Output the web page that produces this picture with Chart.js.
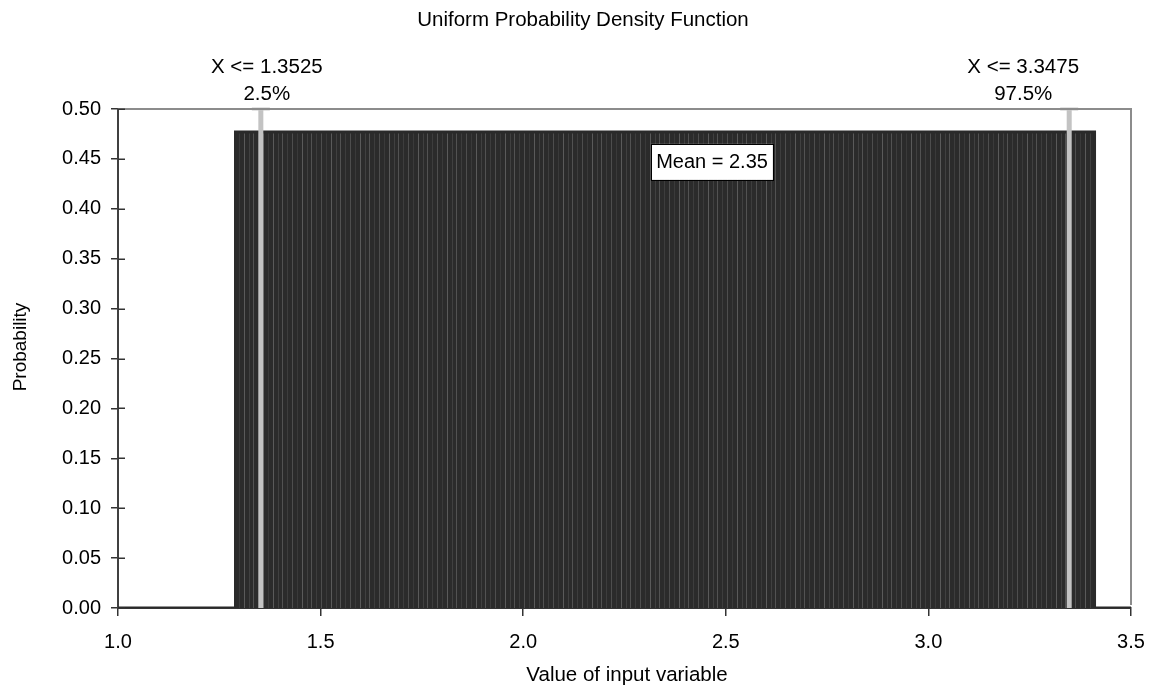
<!DOCTYPE html>
<html>
<head>
<meta charset="utf-8">
<script src="https://cdn.jsdelivr.net/npm/chart.js@4.4.1/dist/chart.umd.min.js"></script>
<style>
html,body{margin:0;padding:0;background:#fff;}
#wrap{width:1151px;height:689px;}
</style>
</head>
<body>
<div id="wrap"><canvas id="c" width="1151" height="689"></canvas></div>
<script>
// ---- data ----
const titleText = "Uniform Probability Density Function";
const xTitle = "Value of input variable";
const yTitle = "Probability";
const pdfX = [1.0, 1.29, 1.29, 3.41, 3.41, 3.5];
const pdfY = [0, 0, 0.477, 0.477, 0, 0];
const markerX = [1.3525, 3.3475];
const markerTop = 0.5;
const markerLine1 = ["X <= 1.3525", "X <= 3.3475"];
const markerLine2 = ["2.5%", "97.5%"];
const meanValue = 2.35;
const xMin = 1.0, xMax = 3.5, xStep = 0.5;
const yMin = 0, yMax = 0.5, yStep = 0.05;

const FONT = '"Liberation Sans", Arial, sans-serif';

// hatched dark fill pattern
function makePattern(ctx) {
  const p = document.createElement('canvas');
  p.width = 29; p.height = 8;
  const g = p.getContext('2d');
  g.fillStyle = '#2b2b2b'; g.fillRect(0, 0, 29, 8);
  const lines = [[2, '#4e4e4e'], [7, '#3a3a3a'], [12, '#5a5a5a'], [17, '#404040'], [21, '#525252'], [26, '#3d3d3d']];
  lines.forEach(([x, c]) => { g.fillStyle = c; g.fillRect(x, 0, 1, 8); });
  return ctx.createPattern(p, 'repeat');
}

const canvas = document.getElementById('c');
const ctx = canvas.getContext('2d');
const pattern = makePattern(ctx);

const pdfData = pdfX.map((x, i) => ({x: x, y: pdfY[i]}));
const markerDatasets = markerX.map(mx => ({
  type: 'line',
  data: [{x: mx, y: 0}, {x: mx, y: markerTop}],
  borderColor: '#c3c3c3',
  borderWidth: 5,
  pointRadius: [0, 9],
  pointStyle: 'line',
  pointBorderColor: '#c8c8c8',
  pointBorderWidth: 3,
  pointBackgroundColor: '#c8c8c8',
  fill: false,
  clip: false,
  order: 1
}));

const overlay = {
  id: 'overlay',
  afterDatasetsDraw(chart) {
    const c = chart.ctx, a = chart.chartArea;
    const xs = chart.scales.x, ys = chart.scales.y;
    c.save();
    // top and right border
    c.strokeStyle = '#8c8c8c';
    c.lineWidth = 2;
    c.beginPath();
    c.moveTo(a.left, a.top);
    c.lineTo(a.right, a.top);
    c.lineTo(a.right, a.bottom - 3);
    c.stroke();
    // inner halves of y ticks (ticks cross the axis)
    c.strokeStyle = '#333';
    c.lineWidth = 1.5;
    ys.ticks.forEach(tk => {
      const py = Math.round(ys.getPixelForValue(tk.value)) + 0.25;
      c.beginPath();
      c.moveTo(a.left, py);
      c.lineTo(a.left + 7, py);
      c.stroke();
    });
    // mean box
    const bx = xs.getPixelForValue(meanValue + 0.116);
    const by = ys.getPixelForValue(0.447);
    c.font = '20px ' + FONT;
    const t = 'Mean = ' + meanValue.toFixed(2);
    const w = c.measureText(t).width + 10;
    const h = 36;
    c.fillStyle = '#fff';
    c.fillRect(bx - w / 2, by - h / 2, w, h);
    c.strokeStyle = '#000';
    c.lineWidth = 1;
    c.strokeRect(Math.round(bx - w / 2) + 0.5, Math.round(by - h / 2) + 0.5, Math.round(w), h);
    c.fillStyle = '#000';
    c.textAlign = 'center';
    c.textBaseline = 'middle';
    c.fillText(t, bx, by + 1);
    c.restore();
  },
  afterDraw(chart) {
    const c = chart.ctx;
    const xs = chart.scales.x;
    c.save();
    c.fillStyle = '#000';
    c.textAlign = 'center';
    c.textBaseline = 'alphabetic';
    c.font = '20.5px ' + FONT;
    c.fillText(titleText, 583, 26);
    c.fillText(xTitle, 627, 681);
    // marker labels
    const offs = [6, -46];
    markerX.forEach((mx, i) => {
      const px = xs.getPixelForValue(mx) + offs[i];
      c.fillText(markerLine1[i], px, 73);
      c.fillText(markerLine2[i], px, 100);
    });
    // y title
    c.font = '19px ' + FONT;
    c.translate(26, 347);
    c.rotate(-Math.PI / 2);
    c.fillText(yTitle, 0, 0);
    c.restore();
  }
};

new Chart(ctx, {
  type: 'line',
  data: {
    datasets: [
      {
        data: pdfData,
        borderColor: '#2a2a2a',
        borderWidth: 3,
        backgroundColor: pattern,
        fill: 'origin',
        tension: 0,
        pointRadius: 0,
        borderJoinStyle: 'miter',
        order: 2
      },
      ...markerDatasets
    ]
  },
  options: {
    responsive: false,
    animation: false,
    devicePixelRatio: 1,
    layout: {padding: {left: 0, right: 20, top: 109, bottom: 0}},
    plugins: {legend: {display: false}, tooltip: {enabled: false}, title: {display: false}},
    scales: {
      x: {
        type: 'linear',
        min: xMin, max: xMax,
        afterFit(s) { s.height = 81; s.paddingRight = 0; s.paddingLeft = 0; },
        border: {display: true, color: '#333', width: 2},
        grid: {display: true, drawOnChartArea: false, drawTicks: true, tickLength: 8, color: '#333', lineWidth: 1.5},
        ticks: {
          stepSize: xStep,
          color: '#000',
          padding: 14,
          maxRotation: 0,
          font: {family: FONT, size: 20},
          callback: v => Number(v).toFixed(1)
        }
      },
      y: {
        type: 'linear',
        min: yMin, max: yMax,
        afterFit(s) { s.width = 118; s.paddingTop = 0; s.paddingBottom = 0; },
        border: {display: true, color: '#404040', width: 2},
        grid: {display: true, drawOnChartArea: false, drawTicks: true, tickLength: 7, color: '#333', lineWidth: 1.5},
        ticks: {
          stepSize: yStep,
          color: '#000',
          padding: 10,
          font: {family: FONT, size: 20},
          callback: v => Number(v).toFixed(2)
        }
      }
    }
  },
  plugins: [overlay]
});
</script>
</body>
</html>
